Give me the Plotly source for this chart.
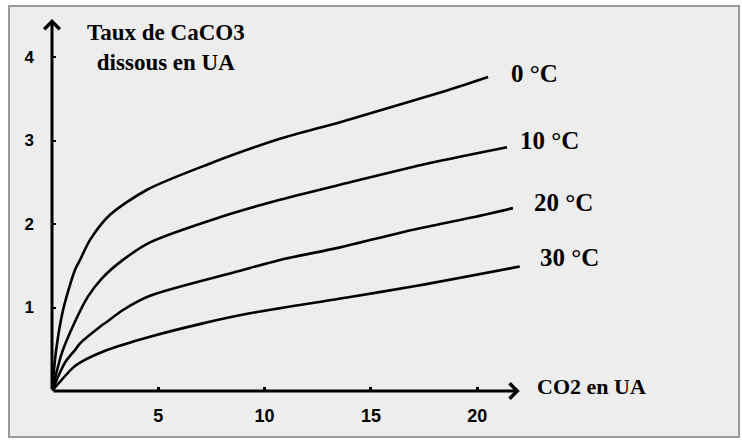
import plotly.graph_objects as go

# CO2 (UA) and dissolved CaCO3 (UA) for each temperature
x_0C = [0, 0.2, 0.52, 1.08, 1.32, 1.79, 2.73, 4.47, 7.29, 10.72, 13.55, 18.58, 20.51]
y_0C = [0, 0.5, 0.97, 1.45, 1.57, 1.81, 2.11, 2.41, 2.71, 3.02, 3.22, 3.60, 3.76]

x_10C = [0, 0.47, 1.08, 1.69, 2.35, 3.34, 4.61, 7.76, 10.72, 13.55, 17.78, 21.40]
y_10C = [0, 0.46, 0.83, 1.13, 1.35, 1.57, 1.78, 2.07, 2.29, 2.47, 2.73, 2.92]

x_20C = [0, 0.61, 1.08, 1.32, 2.26, 2.59, 3.34, 4.61, 8.70, 10.72, 13.55, 16.98, 19.80, 21.68]
y_20C = [0, 0.34, 0.49, 0.57, 0.77, 0.83, 0.97, 1.14, 1.43, 1.57, 1.72, 1.93, 2.08, 2.19]

x_30C = [0, 0.99, 1.32, 2.59, 4.61, 7.10, 9.31, 13.88, 17.17, 22.0]
y_30C = [0, 0.28, 0.34, 0.49, 0.65, 0.81, 0.93, 1.12, 1.26, 1.49]

series_names = ["0 °C", "10 °C", "20 °C", "30 °C"]
x_ticks = [5, 10, 15, 20]
y_ticks = [1, 2, 3, 4]
y_title = "Taux de CaCO3<br>dissous en UA"
x_title = "CO2 en UA"

xs = [x_0C, x_10C, x_20C, x_30C]
ys = [y_0C, y_10C, y_20C, y_30C]

fig = go.Figure()
for name, xv, yv in zip(series_names, xs, ys):
    fig.add_trace(go.Scatter(x=xv, y=yv, mode="lines", name=name,
                             line=dict(color="black", width=2.6, shape="spline", smoothing=0.8),
                             showlegend=False, hoverinfo="skip"))

serif = "Liberation Serif, Times New Roman, serif"
narrow = "Liberation Sans Narrow, Liberation Sans, Arial, sans-serif"

annotations = []
# axis arrows
annotations.append(dict(x=22, y=0, ax=0, ay=0, xref="x", yref="y", axref="x", ayref="y",
                        showarrow=True, arrowhead=4, arrowsize=1, arrowwidth=3, arrowcolor="black", text=""))
annotations.append(dict(x=0, y=4.455, ax=0, ay=0, xref="x", yref="y", axref="x", ayref="y",
                        showarrow=True, arrowhead=4, arrowsize=1, arrowwidth=3, arrowcolor="black", text=""))
# curve labels (paper coordinates)
label_pos = [(0.9857, 0.848), (1.0184, 0.6693), (1.047, 0.504), (1.0573, 0.3573)]
for name, (lx, ly) in zip(series_names, label_pos):
    annotations.append(dict(x=lx, y=ly, xref="paper", yref="paper", text=name, showarrow=False,
                            xanchor="center", yanchor="middle",
                            font=dict(family=serif, size=25, color="black", weight="bold")))
annotations.append(dict(x=0.2331, y=0.916, xref="paper", yref="paper", text=y_title, showarrow=False,
                        xanchor="center", yanchor="middle",
                        font=dict(family=serif, size=23, color="black", weight="bold"), align="center"))
annotations.append(dict(x=1.1033, y=0.0107, xref="paper", yref="paper", text=x_title, showarrow=False,
                        xanchor="center", yanchor="middle",
                        font=dict(family=serif, size=22, color="black", weight="bold")))

fig.update_layout(
    width=742, height=440,
    margin=dict(l=52, r=201, t=16, b=49),
    paper_bgcolor="white",
    plot_bgcolor="#ededed",
    annotations=annotations,
    shapes=[dict(type="rect", xref="paper", yref="paper", x0=-0.0879, x1=1.405, y0=-0.1227, y1=1.0267,
                 line=dict(color="#9a9a9a", width=2), fillcolor="#ededed", layer="below")],
    xaxis=dict(range=[0, 23], showgrid=False, zeroline=False, showline=False,
               tickvals=x_ticks, ticktext=[str(v) for v in x_ticks],
               ticks="inside", ticklen=4, tickwidth=3, tickcolor="black",
               ticklabelstandoff=12,
               tickfont=dict(family=narrow, size=18, color="black", weight="bold")),
    yaxis=dict(range=[0, 4.491], showgrid=False, zeroline=False, showline=False,
               tickvals=y_ticks, ticktext=[str(v) for v in y_ticks],
               ticks="inside", ticklen=4, tickwidth=2, tickcolor="black",
               ticklabelstandoff=17,
               tickfont=dict(family=narrow, size=17, color="black", weight="bold")),
)

fig.write_html("out.html", config={"displayModeBar": False},
               post_script="document.body.style.margin='0';document.body.style.overflow='hidden';")
